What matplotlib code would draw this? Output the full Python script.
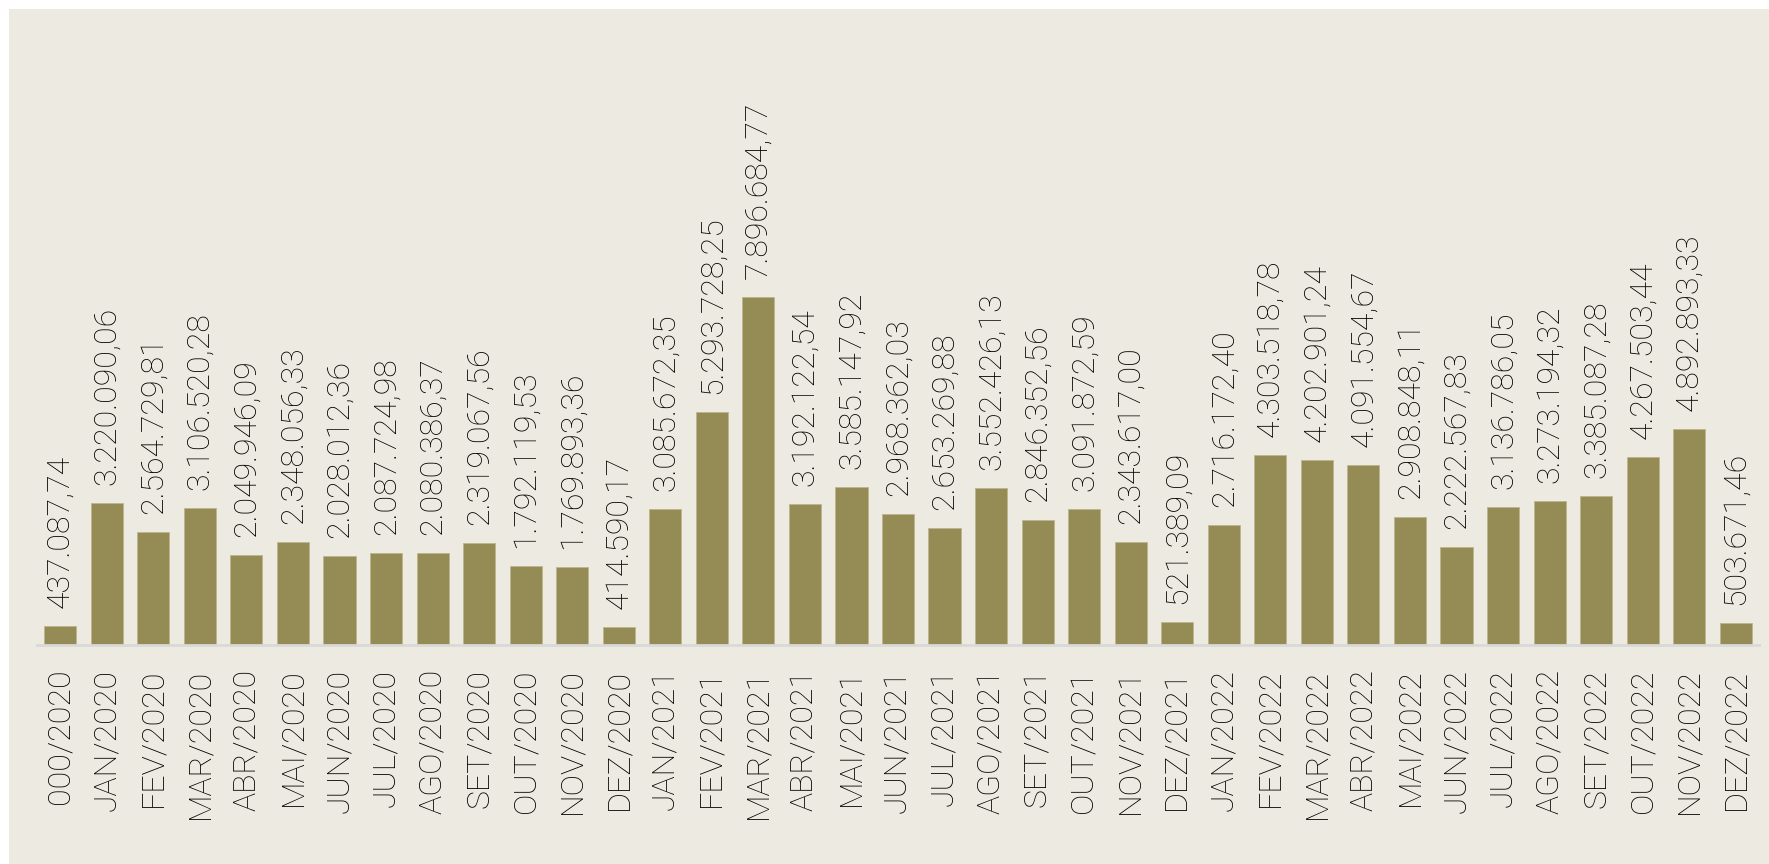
import matplotlib
matplotlib.use("Agg")
import matplotlib.pyplot as plt
from matplotlib.patches import Rectangle

categories = ["000/2020", "JAN/2020", "FEV/2020", "MAR/2020", "ABR/2020", "MAI/2020",
              "JUN/2020", "JUL/2020", "AGO/2020", "SET/2020", "OUT/2020", "NOV/2020",
              "DEZ/2020", "JAN/2021", "FEV/2021", "MAR/2021", "ABR/2021", "MAI/2021",
              "JUN/2021", "JUL/2021", "AGO/2021", "SET/2021", "OUT/2021", "NOV/2021",
              "DEZ/2021", "JAN/2022", "FEV/2022", "MAR/2022", "ABR/2022", "MAI/2022",
              "JUN/2022", "JUL/2022", "AGO/2022", "SET/2022", "OUT/2022", "NOV/2022",
              "DEZ/2022"]
values = [437087.74, 3220090.06, 2564729.81, 3106520.28, 2049946.09, 2348056.33,
          2028012.36, 2087724.98, 2080386.37, 2319067.56, 1792119.53, 1769893.36,
          414590.17, 3085672.35, 5293728.25, 7896684.77, 3192122.54, 3585147.92,
          2968362.03, 2653269.88, 3552426.13, 2846352.56, 3091872.59, 2343617.00,
          521389.09, 2716172.40, 4303518.78, 4202901.24, 4091554.67, 2908848.11,
          2222567.83, 3136786.05, 3273194.32, 3385087.28, 4267503.44, 4892893.33,
          503671.46]


def fmt_br(v):
    s = f"{v:,.2f}"
    return s.replace(",", "X").replace(".", ",").replace("X", ".")


W, H = 1769, 864
fig = plt.figure(figsize=(W / 100, H / 100), dpi=100, facecolor="white")
fig.patches.append(Rectangle((9 / W, 0), 1 - 9 / W, 1 - 9 / H, transform=fig.transFigure,
                             facecolor="#EDEBE1", edgecolor="none", zorder=-10))

# axes: x from 37 to 1759 px, baseline at y=645 px
ax_left, ax_right = 37, 1759
base_y, top_y = 645, 20
ax = fig.add_axes([ax_left / W, 1 - base_y / H, (ax_right - ax_left) / W, (base_y - top_y) / H])
ax.set_zorder(1)
ax.set_facecolor("none")

x = list(range(len(categories)))
bars = ax.bar(x, values, width=0.69, color="#958B55", edgecolor="#BDB58C", linewidth=0.6)

px_per_unit = 348 / 7896684.77
ymax = (base_y - top_y) / px_per_unit
ax.set_xlim(-0.5, len(categories) - 0.5)
ax.set_ylim(0, ymax)

font = dict(family=["Roboto", "DejaVu Sans"], fontweight="light", color="#000000")
gap = 18 / px_per_unit
for xi, v in zip(x, values):
    ax.text(xi, v + gap, fmt_br(v), rotation=90, ha="center", va="bottom",
            fontsize=23, **font)

ax.set_xticks(x)
ax.set_xticklabels(categories, rotation=90, fontsize=23, **font)
ax.tick_params(axis="x", length=0, pad=17)
ax.set_yticks([])
for s in ["top", "right", "left"]:
    ax.spines[s].set_visible(False)
ax.spines["bottom"].set_color("#D9D9D9")
ax.spines["bottom"].set_linewidth(2)

fig.savefig("out.png", dpi=100, facecolor="white")
